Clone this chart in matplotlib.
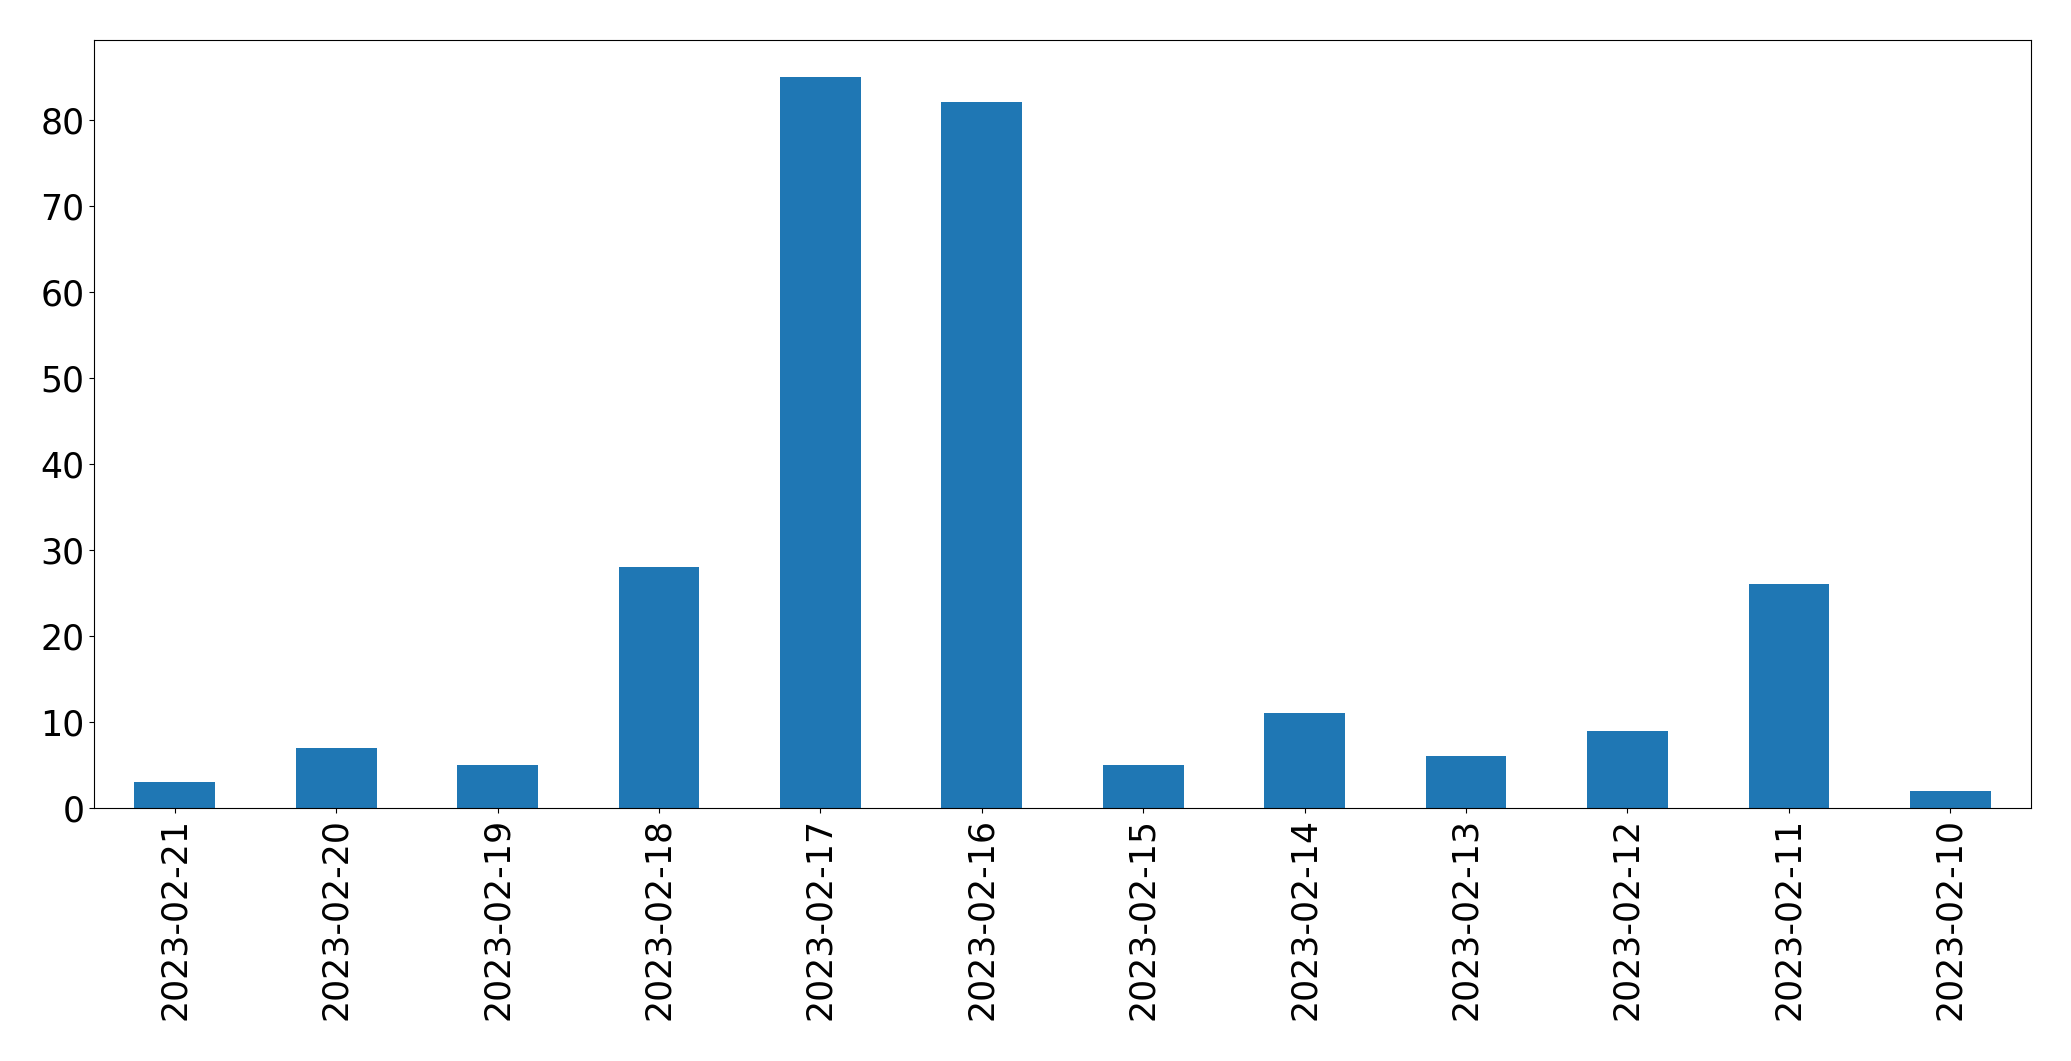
import pandas as pd
import matplotlib.pyplot as plt

# Datos: numero de registros por dia
fechas = ['2023-02-21', '2023-02-20', '2023-02-19', '2023-02-18',
          '2023-02-17', '2023-02-16', '2023-02-15', '2023-02-14',
          '2023-02-13', '2023-02-12', '2023-02-11', '2023-02-10']
conteos = [3, 7, 5, 28, 85, 82, 5, 11, 6, 9, 26, 2]

serie = pd.Series(conteos, index=fechas)

fig = plt.figure(figsize=(20.71, 10.61), dpi=100)
ax = fig.add_axes([0.0454, 0.2385, 0.9353, 0.7238])
serie.plot(kind='bar', ax=ax, color='#1f77b4')

ax.tick_params(axis='both', labelsize=25)
plt.setp(ax.get_xticklabels(), rotation=90)

fig.savefig('out.png', dpi=100)
